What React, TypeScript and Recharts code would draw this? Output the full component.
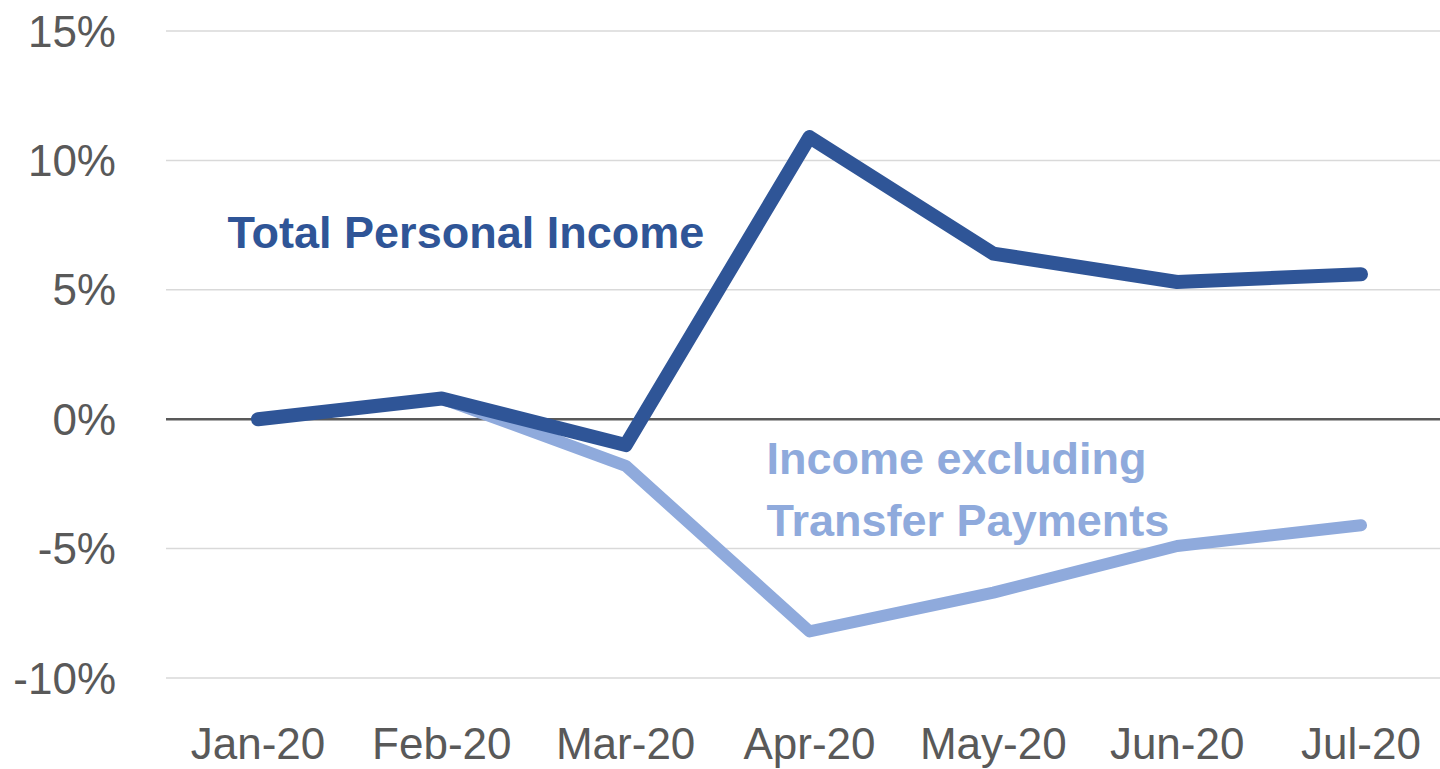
import React from 'react';
import {
  LineChart,
  Line,
  XAxis,
  YAxis,
  CartesianGrid,
  ReferenceLine,
  ReferenceDot,
} from 'recharts';

const months = ['Jan-20', 'Feb-20', 'Mar-20', 'Apr-20', 'May-20', 'Jun-20', 'Jul-20'];
const totalPersonalIncome = [0, 0.8, -1.0, 10.9, 6.4, 5.3, 5.6];
const incomeExclTransfers = [0, 0.8, -1.8, -8.2, -6.7, -4.9, -4.1];
const yTicks = [-10, -5, 0, 5, 10, 15];

const data = months.map((m, i) => ({
  month: m,
  total: totalPersonalIncome[i],
  excl: incomeExclTransfers[i],
}));

const FONT = '"Liberation Sans", Arial, sans-serif';
const DARK = '#2F5597';
const LIGHT = '#8FAADC';
const TICK = '#595959';

const makeLabel = (text: string, color: string, dx: number, anchor: 'start' | 'middle') =>
  (p: any) => (
    <text
      x={p.cx + dx}
      y={p.cy}
      fill={color}
      fontSize={45}
      fontWeight="bold"
      fontFamily={FONT}
      textAnchor={anchor}
    >
      {text}
    </text>
  );

export default function App() {
  return (
    <div
      style={{
        position: 'absolute',
        left: 0,
        top: 0,
        width: 1440,
        height: 769,
        overflow: 'hidden',
        background: '#fff',
      }}
    >
      <LineChart width={1453} height={769} data={data} margin={{ top: 31, right: 0, bottom: 31, left: 0 }}>
        <CartesianGrid vertical={false} stroke="#D9D9D9" strokeWidth={1.5} />
        <XAxis
          dataKey="month"
          axisLine={false}
          tickLine={false}
          tickSize={0}
          tickMargin={50}
          height={60}
          interval={0}
          padding={{ left: 92, right: 92 }}
          tick={{ fill: TICK, fontSize: 44, fontFamily: FONT }}
        />
        <YAxis
          domain={[-10, 15]}
          ticks={yTicks}
          width={166}
          interval={0}
          axisLine={false}
          tickLine={false}
          tickSize={0}
          tickMargin={50}
          tickFormatter={(v: number) => `${v}%`}
          tick={{ fill: TICK, fontSize: 44, fontFamily: FONT }}
        />
        <ReferenceLine y={0} stroke={TICK} strokeWidth={2.5} />
        <Line
          dataKey="excl"
          type="linear"
          stroke={LIGHT}
          strokeWidth={12}
          strokeLinecap="round"
          strokeLinejoin="round"
          dot={false}
          activeDot={false}
          isAnimationActive={false}
        />
        <Line
          dataKey="total"
          type="linear"
          stroke={DARK}
          strokeWidth={14}
          strokeLinecap="round"
          strokeLinejoin="round"
          dot={false}
          activeDot={false}
          isAnimationActive={false}
        />
        <ReferenceDot
          x="Feb-20"
          y={6.6}
          r={0}
          shape={makeLabel('Total Personal Income', DARK, 24, 'middle')}
        />
        <ReferenceDot
          x="Apr-20"
          y={-2.13}
          r={0}
          shape={makeLabel('Income excluding', LIGHT, -43, 'start')}
        />
        <ReferenceDot
          x="Apr-20"
          y={-4.52}
          r={0}
          shape={makeLabel('Transfer Payments', LIGHT, -43, 'start')}
        />
      </LineChart>
    </div>
  );
}
